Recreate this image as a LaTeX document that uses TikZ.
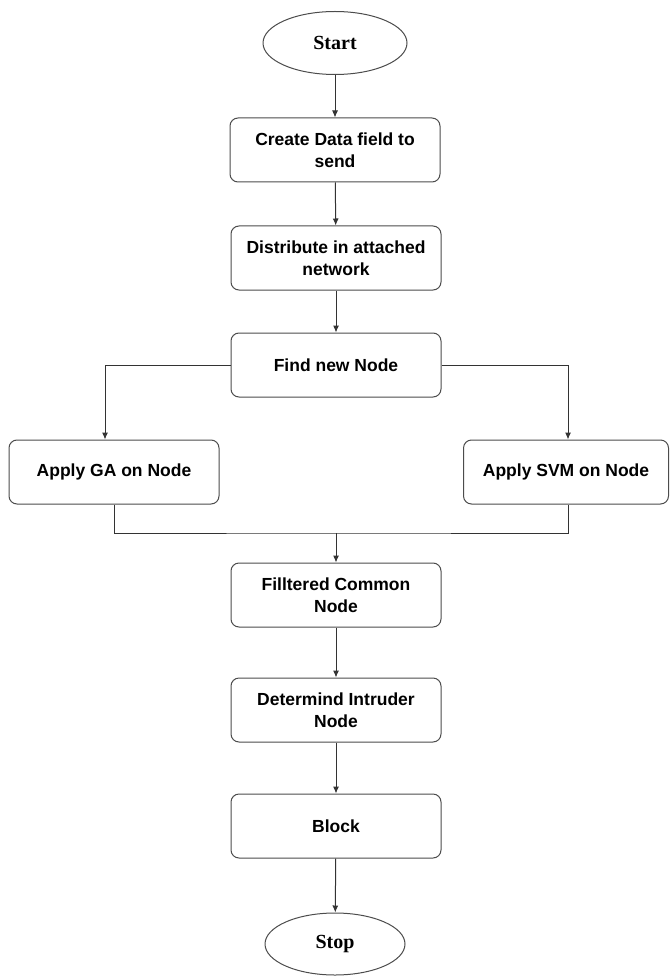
\documentclass[tikz,border=0pt]{standalone}
\usepackage{fontspec}
\setmainfont{Liberation Sans}
\newfontfamily\termfont{Liberation Serif}
\usepackage{tikz}
\usetikzlibrary{arrows.meta}
\usetikzlibrary{shapes.geometric}
\tikzset{
>={Latex[length=7pt,width=6pt]},
box/.style={draw=black!70, line width=1pt, rounded corners=8pt, fill=white, minimum width=210pt, minimum height=64pt, align=center, font=\fontsize{17.5}{21.5}\selectfont\bfseries},
term/.style={draw=black!70, line width=1pt, ellipse, fill=white, minimum width=144pt, minimum height=63pt, inner sep=0pt, font=\termfont\fontsize{20}{24}\selectfont\bfseries},
flow/.style={draw=black!80, line width=1pt}}

\begin{document}
\begin{tikzpicture}[x=1pt, y=-1pt]
    \useasboundingbox (0,0) rectangle (669,976);

                \node[term] (start) at (335,43) {Start};
                \node[box] (create) at (335,150) {Create Data field to\\send};
                \node[box] (distribute) at (336,258) {Distribute in attached\\network};
                \node[box] (find) at (336,365) {Find new Node};
                \node[box] (ga) at (114,472) {Apply GA on Node};
                \node[box, minimum width=205pt] (svm) at (566,472) {Apply SVM on Node};
                \coordinate (merge) at (336,533);
                \node[box] (filter) at (336,595) {Filltered Common\\Node};
                \node[box] (intruder) at (336,710) {Determind Intruder\\Node};
                \node[box] (block) at (336,826) {Block};
                \node[term, minimum width=140pt, minimum height=62pt] (stop) at (335,944) {Stop};

                \draw[flow, ->] (start) -- (create);
                \draw[flow, ->] (create) -- (distribute);
                \draw[flow, ->] (distribute) -- (find);
                \draw[flow, ->] (find.west) -| ([xshift=-9]ga.north);
                \draw[flow, ->] (find.east) -| ([xshift=2]svm.north);
                \draw[flow] (ga) |- (merge) -| ([xshift=2]svm.south);
                \draw[flow, ->] (merge) -- (filter);
                \draw[flow, ->] (filter) -- (intruder);
                \draw[flow, ->] (intruder) -- (block);
                \draw[flow, ->] (block) -- (stop);

            \end{tikzpicture}
\end{document}
